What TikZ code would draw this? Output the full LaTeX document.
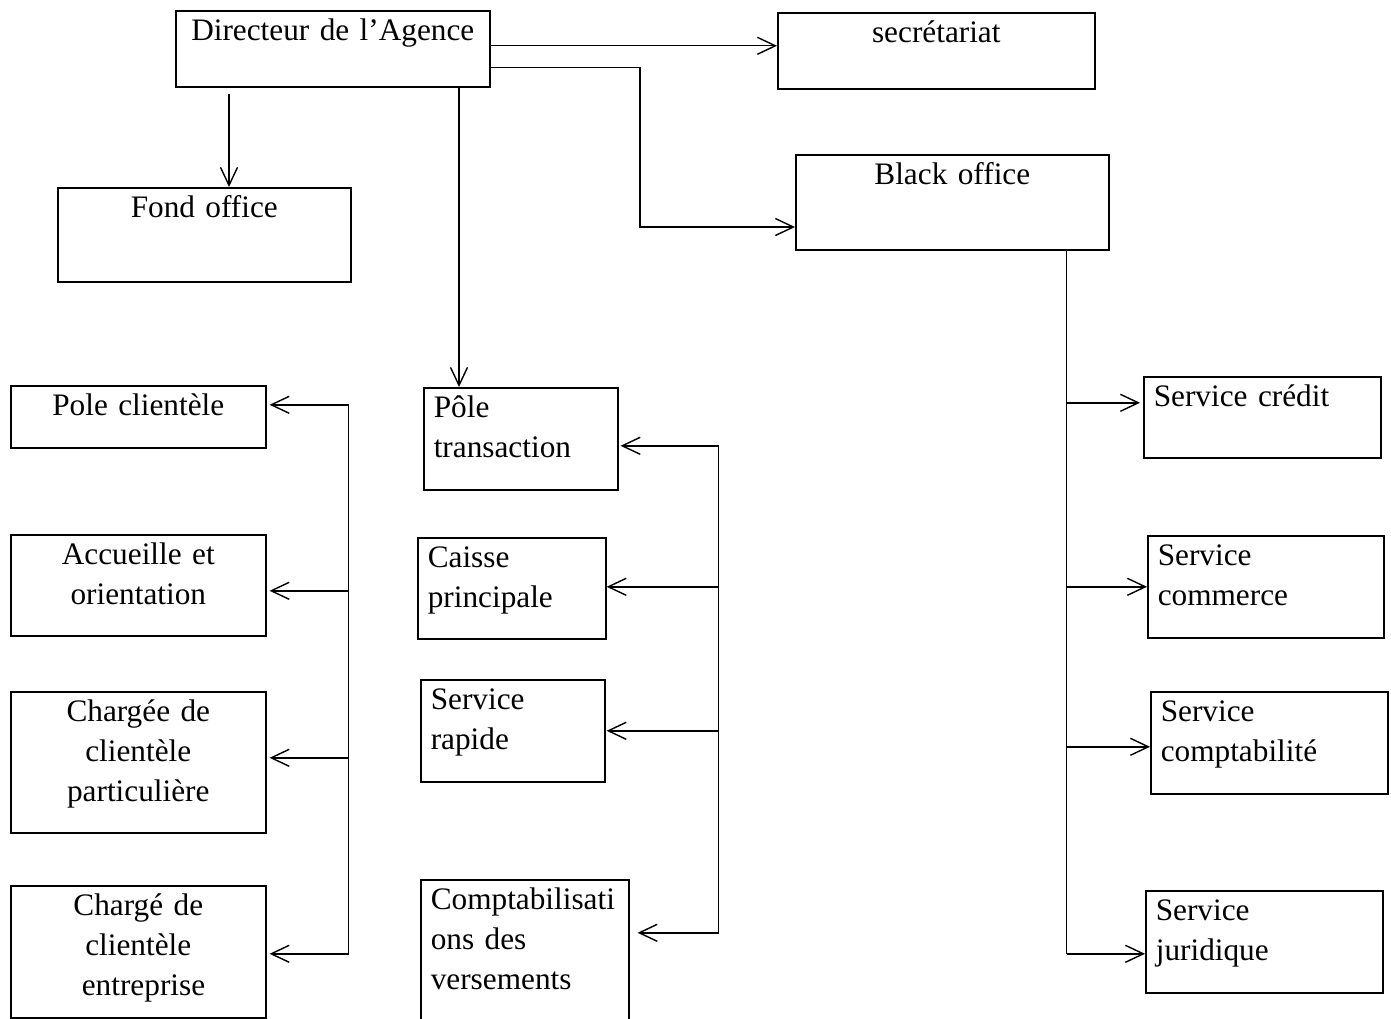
\documentclass[tikz,border=0pt]{standalone}
\usepackage{fontspec}
\setmainfont{Liberation Serif}
\usetikzlibrary{arrows.meta,calc}
\hyphenpenalty=10000
\exhyphenpenalty=10000

\tikzset{
    box/.style={draw, line width=0.9pt, anchor=north west, inner ysep=0pt, text height=0.6cm},
    cbox/.style 2 args={box, align=center, inner xsep=0.04cm,
        /utils/exec={\pgfmathsetlengthmacro\boxtw{#1*0.02cm-0.08cm}\pgfmathsetlengthmacro\boxtd{#2*0.02cm-0.6cm}},
        text width=\boxtw, text depth=\boxtd},
    lbox/.style 2 args={box, align=left, inner xsep=0.2cm,
        /utils/exec={\pgfmathsetlengthmacro\boxtw{#1*0.02cm-0.4cm}\pgfmathsetlengthmacro\boxtd{#2*0.02cm-0.6cm}},
        text width=\boxtw, text depth=\boxtd},
    link/.style={line width=0.8pt}
}

\begin{document}
\begin{tikzpicture}[x=0.02cm, y=-0.02cm, font=\fontsize{17.8}{22.76}\selectfont,
    >={Straight Barb[length=0.36cm, width=0.34cm]}]
    \useasboundingbox (0,0) rectangle (1391,1018);
    \clip (0,0) rectangle (1391,1018);

    % Top row
    \node[cbox={314}{76}] (dir) at (175,10) {Directeur de l’Agence};
    \node[cbox={317}{76}] (sec) at (777,12) {secrétariat};
    \node[cbox={293}{94}] (fond) at (57,187) {Fond office};
    \node[cbox={313}{95}] (blk) at (795,154) {Black office};

    % Pole clientele column
    \node[cbox={255}{62}] (pcl) at (10,385) {Pole clientèle};
    \node[cbox={255}{101}] (acc) at (10,534) {Accueille et\\orientation};
    \node[cbox={255}{141}] (cpa) at (10,691) {Chargée de\\clientèle\\particulière};
    \node[cbox={255}{132}] (cen) at (10,885) {Chargé de\\clientèle~\\~entreprise};

    % Pole transaction column
    \node[lbox={194}{102}] (ptr) at (423,387) {Pôle\\transaction};
    \node[lbox={188}{101}] (cai) at (417,537) {Caisse\\principale};
    \node[lbox={184}{102}] (srp) at (420,679) {Service\\rapide};
    \node[lbox={208}{160}] (cpt) at (420,879) {Comptabilisati\\ons des\\versements};

    % Back office column
    \node[lbox={237}{81}] (scr) at (1143,376) {Service crédit};
    \node[lbox={236}{102}] (sco) at (1147,535) {Service\\commerce};
    \node[lbox={237}{102}] (scb) at (1150,691) {Service\\comptabilité};
    \node[lbox={237}{102}] (sju) at (1145,890) {Service\\juridique};

    % Links from the director
    \draw[link, ->] ($(dir.east)+(0,-3)$) -- ($(dir.east -| sec.west)+(0,-3)$);
    \coordinate (bend) at (640,227);
    \draw[link, ->] ($(dir.east)+(0,19)$) -| (bend) -- (bend -| blk.west);
    \draw[link, ->] ($(dir.south west)+(54,6)$) -- ($(fond.north west)+(172,0)$);
    \draw[link, ->] ($(dir.south west)+(284,-2)$) -- ($(ptr.north west)+(36,0)$);

    % Left bus
    \coordinate (lbus) at ($(pcl.east)+(82,0)$);
    \foreach \n/\dy in {pcl/-12, acc/5.5, cpa/-4.5, cen/2}{
        \coordinate (\n-in) at ($(\n.east)+(3,\dy)$);
        \draw[link, ->] (lbus |- \n-in) -- (\n-in);
    }
    \draw[link] (lbus |- pcl-in) -- (lbus |- cen-in);

    % Middle bus
    \coordinate (mbus) at ($(ptr.east)+(100,0)$);
    \foreach \n/\dy/\gap in {ptr/7/2, cai/-1.5/0, srp/0/1, cpt/-27/8}{
        \coordinate (\n-in) at ($(\n.east)+(\gap,\dy)$);
        \draw[link, ->] (mbus |- \n-in) -- (\n-in);
    }
    \draw[link] (mbus |- ptr-in) -- (mbus |- cpt-in);

    % Right bus
    \coordinate (rbus) at ($(blk.south east)+(-43,0)$);
    \foreach \n/\dy/\gap in {scr/-14.5/-3, sco/0/0, scb/4/0, sju/12/0}{
        \coordinate (\n-in) at ($(\n.west)+(\gap,\dy)$);
        \draw[link, ->] (rbus |- \n-in) -- (\n-in);
    }
    \draw[link] (rbus) -- (rbus |- sju-in);
\end{tikzpicture}
\end{document}
